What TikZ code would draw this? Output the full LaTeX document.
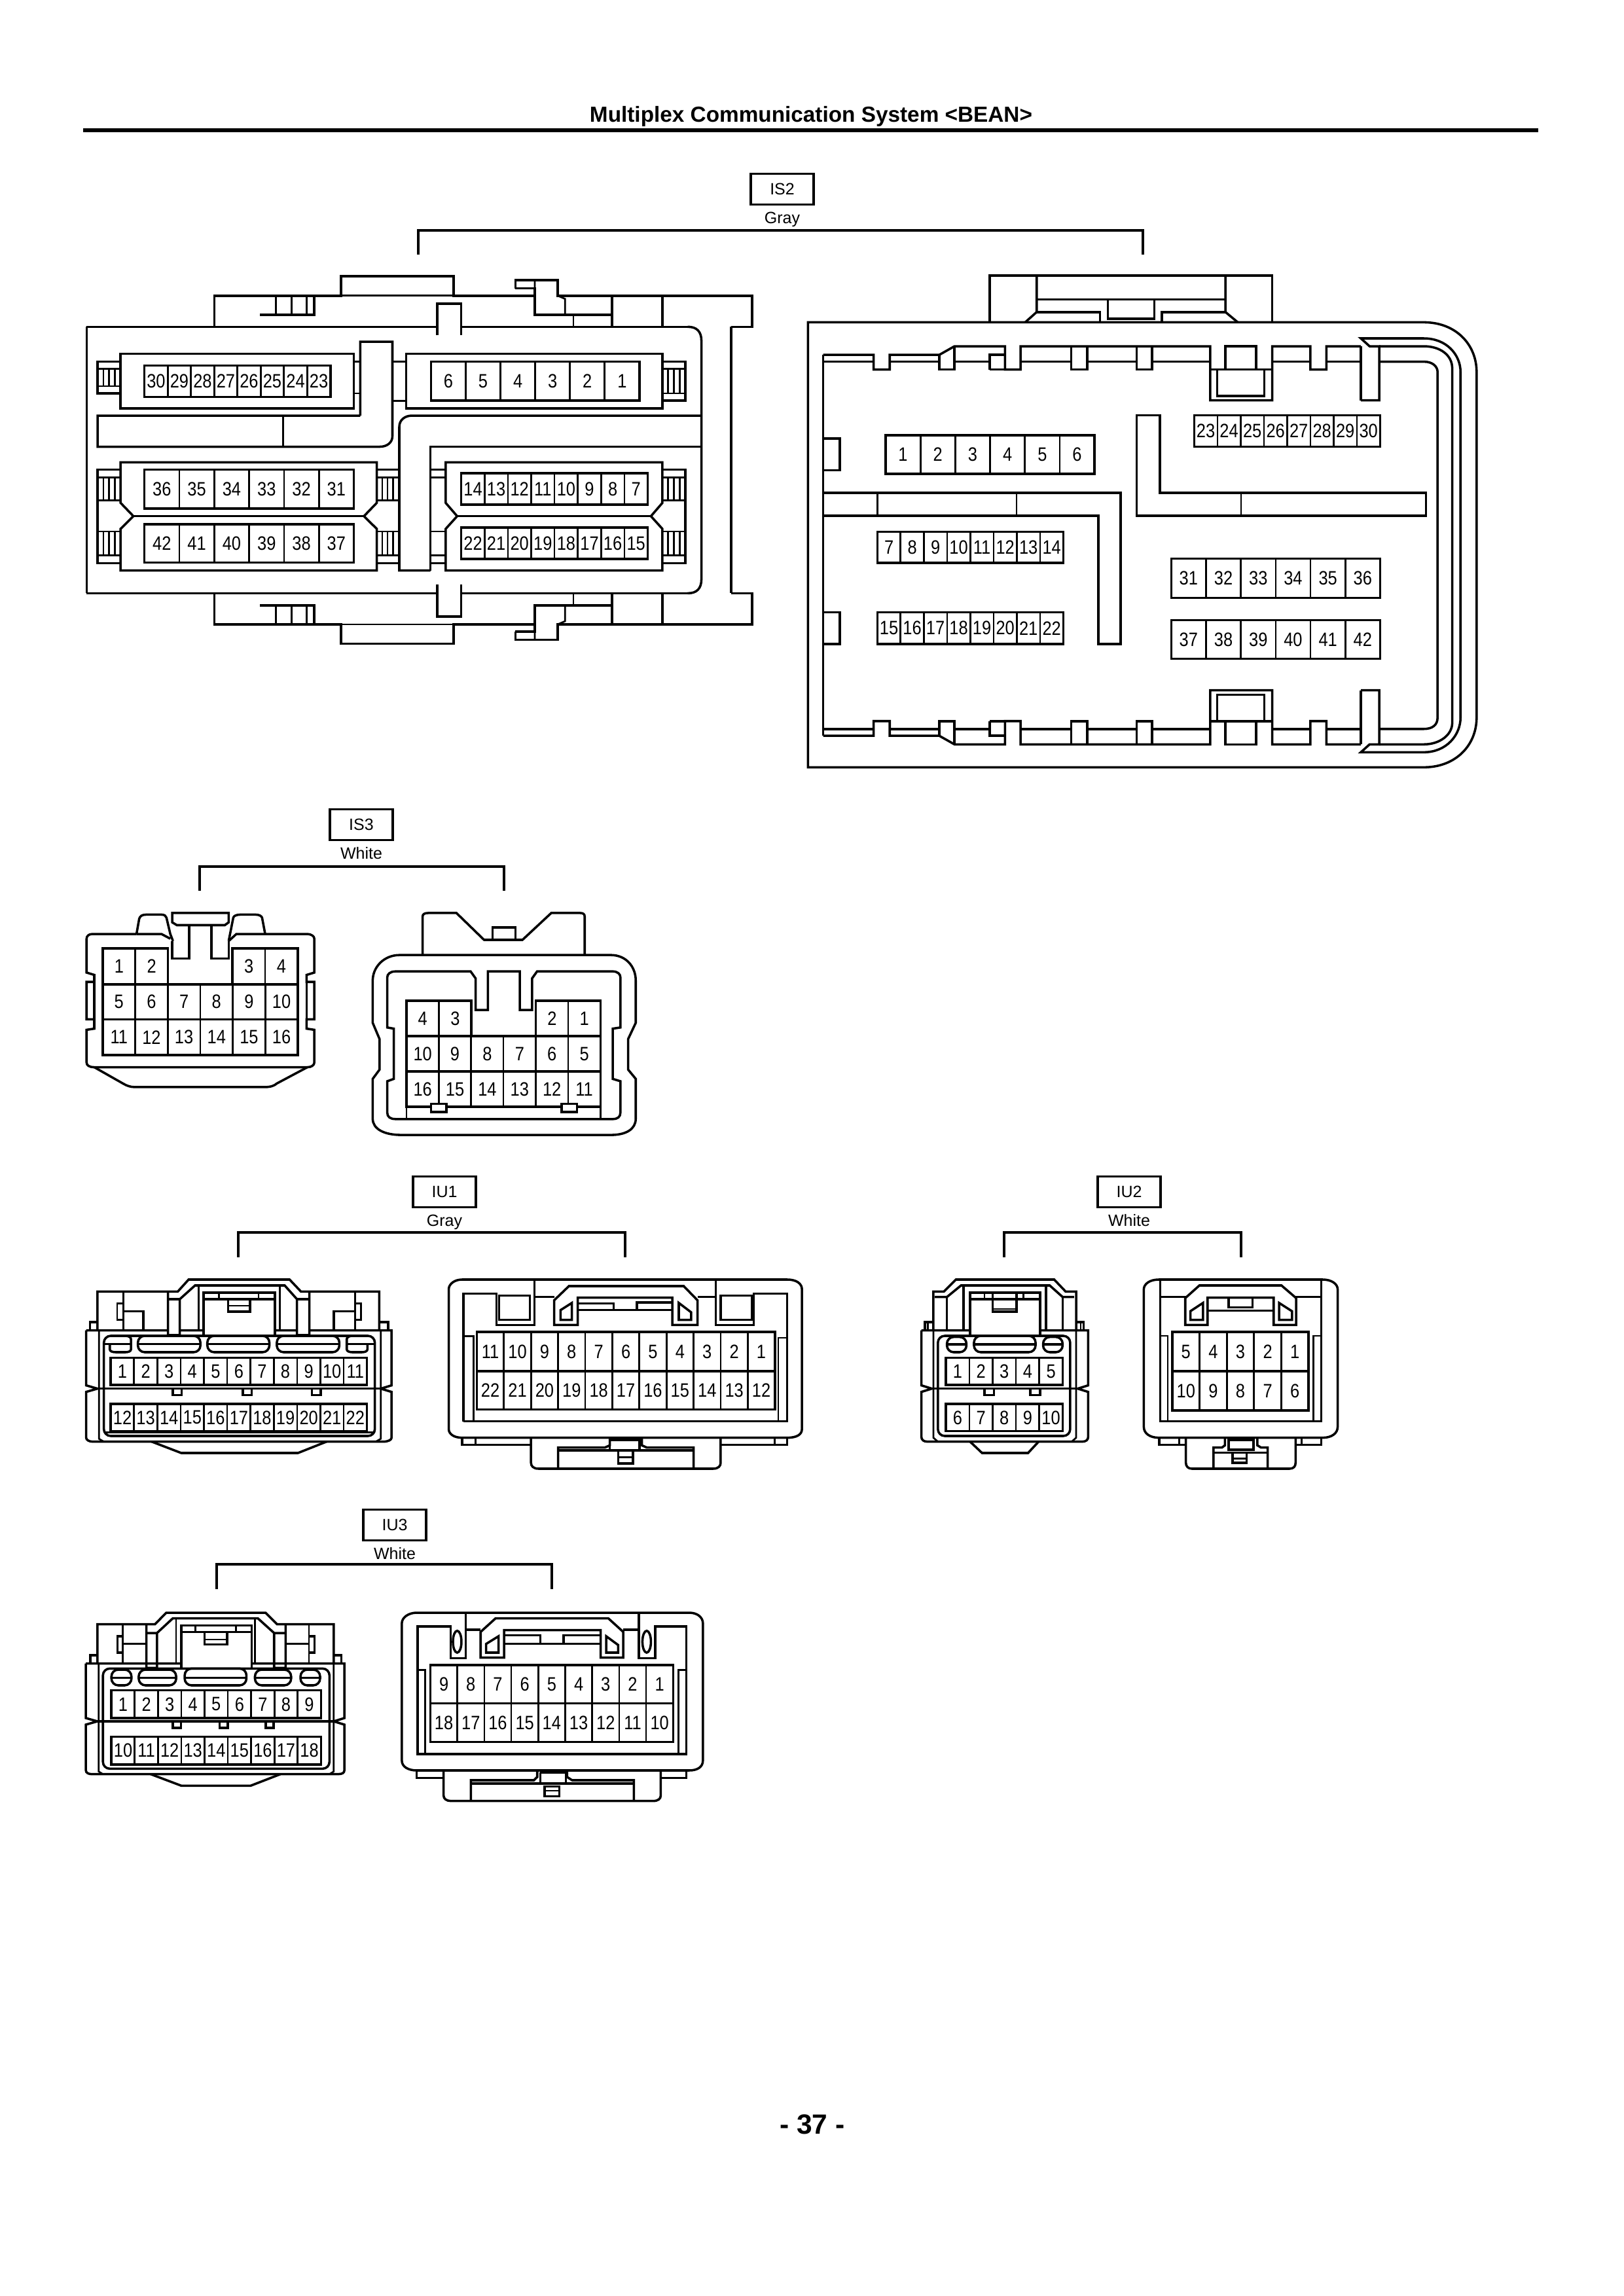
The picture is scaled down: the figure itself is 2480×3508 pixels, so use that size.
\documentclass[tikz,border=0pt]{standalone}
\usepackage{fontspec}
\setmainfont{Liberation Sans}
\newfontfamily\pinfamily[FakeStretch=0.86]{Liberation Sans}
\usetikzlibrary{positioning}

\tikzset{
  shell/.style={draw=black, line width=0.85pt, line join=miter},
  cell/.style={draw=black, line width=0.65pt},
  pintext/.style={inner sep=0pt, font=\pinfamily\fontsize{7.1}{8}\selectfont},
  tagbox/.style={rectangle, draw=black, line width=0.8pt, inner sep=0pt, minimum width=23pt, minimum height=11.4pt, font=\fontsize{6}{7}\selectfont},
  tagnote/.style={inner sep=0pt, font=\fontsize{6}{7}\selectfont},
  bracket/.style={draw=black, line width=0.9pt},
  % crops of the sheet, each with its own grid
  gridIStwoL/.style={shift={(100,240)}, xscale=0.7015, yscale=0.4847},
  gridIStwoR/.style={shift={(1200,380)}, xscale=0.7015, yscale=0.523},
  gridISthree/.style={shift={(100,1220)}, xscale=0.5867, yscale=0.357},
  gridIUone/.style={shift={(100,1940)}, xscale=0.7526, yscale=0.3333},
  gridIUtwo/.style={shift={(1380,1940)}, xscale=0.4592, yscale=0.3333},
  gridIUthree/.style={shift={(100,2450)}, xscale=0.6505, yscale=0.3333}
}

% name, x0, y0, x1, y1, labels
\newcommand{\pinrow}[6]{%
  \foreach \pn [count=\pk] in {#6} {\xdef\pintotal{\pk}}
  \pgfmathsetmacro{\pinw}{(#4-#2)/\pintotal}
  \foreach \pn [count=\pk from 0] in {#6} {
    \pgfmathsetmacro{\pinl}{#2+\pk*\pinw}
    \draw[cell] (\pinl,#3) rectangle ({\pinl+\pinw},#5);
    \node[pintext] (#1-\pn) at ({\pinl+\pinw/2},{(#3+#5)/2}) {\pn};
  }
  \draw[shell] (#2,#3) rectangle (#4,#5);
}
% x0, x1, y top, y bottom
\newcommand{\grill}[4]{%
  \draw[cell] (#1,#3) -- (#2,#3) (#1,#4) -- (#2,#4);
  \foreach \gk in {1,2,3} {
    \draw[cell] ({#1+\gk*(#2-#1)/4},#3) -- ({#1+\gk*(#2-#1)/4},#4);
  }
}
% x0, y0, x1, y1, y middle
\newcommand{\slothole}[5]{%
  \draw[shell, rounded corners=2.5pt] (#1,#2) rectangle (#3,#4);
  \draw[shell] (#1,#5) -- (#3,#5);
}
% left IS2 top part, drawn twice
\newcommand{\shroudIStwo}{%
  \draw[shell] (46,535) -- (324,535) -- (324,437) -- (600,437) -- (600,376) -- (845,376) -- (845,437) -- (1022,437);
  \draw[cell] (600,437) -- (845,437);
  \draw[shell] (810,535) -- (810,462) -- (862,462) -- (862,562) (810,562) -- (810,535);
  \draw[shell] (324,535) -- (810,535) (862,535) -- (1355,535);
  \draw[shell] (980,414) -- (980,388) -- (1072,388) -- (1072,437) -- (1495,437) -- (1495,535) -- (1450,535);
  \draw[shell] (980,414) -- (1022,414) -- (1022,497) -- (1188,497);
  \draw[cell] (1022,388) -- (1022,414) (1072,437) -- (1088,447) -- (1088,497);
  \draw[shell] (1190,437) -- (1190,535) (1300,437) -- (1300,535);
  \draw[cell] (1106,497) -- (1106,535);
  \draw[shell] (424,497) -- (542,497) -- (542,437);
  \draw[cell] (458,437) -- (458,497) (492,437) -- (492,497) (525,437) -- (525,497);
}
% right IS2 top rail, drawn twice
\newcommand{\railIStwo}{%
  \draw[shell] (82,310) -- (192,310) -- (192,353) -- (227,353) -- (227,310) -- (335,310) -- (368,285) -- (478,285) -- (478,353) -- (512,353) -- (512,285) -- (925,285) -- (925,443) -- (1060,443) -- (1060,285) -- (1143,285) -- (1143,353) -- (1178,353) -- (1178,285) -- (1253,285);
  \draw[shell] (622,285) -- (622,353) -- (657,353) -- (657,285) (765,285) -- (765,353) -- (798,353) -- (798,285);
  \draw[shell] (82,330) -- (192,330) (227,330) -- (335,330) (368,330) -- (445,330) (512,330) -- (622,330) (657,330) -- (765,330) (798,330) -- (925,330) (1060,330) -- (1143,330) (1178,330) -- (1253,330);
  \draw[shell] (335,310) -- (335,353) -- (368,353) -- (368,285) (445,353) -- (445,310) -- (478,310) (445,353) -- (478,353);
  \draw[shell] (925,353) -- (1060,353) (958,353) -- (958,285) -- (1025,285) -- (1025,353);
  \draw[shell] (940,353) -- (940,430) -- (1043,430) -- (1043,353);
  \draw[shell] (1253,443) -- (1293,443) -- (1293,285) -- (1272,285) -- (1253,262) -- (1390,262);
  \draw[shell] (1253,285) -- (1253,443);
}

\begin{document}
\begin{tikzpicture}[x=0.24pt, y=-0.24pt]
  \useasboundingbox (0,0) rectangle (2480,3508);

  % Page head and foot
  \node[inner sep=0pt, font=\fontsize{8}{10}\selectfont\bfseries] (title) at (1239,178) {Multiplex Communication System <BEAN>};
  \coordinate (ruleL) at (127,199);
  \coordinate (ruleR) at (2350,199);
  \draw[line width=1.5pt] (ruleL) -- (ruleR);
  \node[inner sep=0pt, font=\fontsize{10.2}{12}\selectfont\bfseries] (pageno) at (1241,3246) {- 37 -};

  % Tags
  \node[tagbox] (tagIStwo) at (1195,289) {IS2};
  \node[tagnote, below=2pt of tagIStwo] (noteIStwo) {Gray};
  \node[tagbox] (tagISthree) at (552,1260) {IS3};
  \node[tagnote, below=2pt of tagISthree] (noteISthree) {White};
  \node[tagbox] (tagIUone) at (679,1821) {IU1};
  \node[tagnote, below=2pt of tagIUone] (noteIUone) {Gray};
  \node[tagbox] (tagIUtwo) at (1725,1821) {IU2};
  \node[tagnote, below=2pt of tagIUtwo] (noteIUtwo) {White};
  \node[tagbox] (tagIUthree) at (603,2330) {IU3};
  \node[tagnote, below=2pt of tagIUthree] (noteIUthree) {White};

  % Brackets
  \coordinate (brISa) at (639,389);
  \coordinate (brISb) at (1746,389);
  \draw[bracket] (brISa) |- ++(553,-37) -| (brISb);
  \coordinate (brISc) at (305,1361);
  \coordinate (brISd) at (770,1361);
  \draw[bracket] (brISc) |- ++(232,-37) -| (brISd);
  \coordinate (brIUa) at (364,1921);
  \coordinate (brIUb) at (955,1921);
  \draw[bracket] (brIUa) |- ++(295,-38) -| (brIUb);
  \coordinate (brIUc) at (1534,1921);
  \coordinate (brIUd) at (1896,1921);
  \draw[bracket] (brIUc) |- ++(181,-38) -| (brIUd);
  \coordinate (brIUe) at (331,2428);
  \coordinate (brIUf) at (843,2428);
  \draw[bracket] (brIUe) |- ++(256,-38) -| (brIUf);

  % IS2 left
  \begin{scope}[gridIStwoL]
    \shroudIStwo
    \begin{scope}[shift={(0,1910)}, yscale=-1]
      \shroudIStwo
    \end{scope}
    \draw[shell] (46,535) -- (46,1375);
    \draw[shell] (1355,535) .. controls (1375,535) and (1385,550) .. (1385,580) -- (1385,1330) .. controls (1385,1360) and (1375,1375) .. (1355,1375);
    \draw[shell] (1450,535) -- (1450,1375);
    % 30..23 and 6..1
    \draw[shell] (120,620) rectangle (628,792);
    \pinrow{isTwoA}{172}{657}{577}{756}{30,29,28,27,26,25,24,23}
    \draw[shell] (120,645) -- (70,645) -- (70,745) -- (120,745);
    \grill{70}{120}{668}{722}
    \draw[cell] (628,645) -- (642,645) (628,745) -- (642,745);
    \draw[shell] (642,815) -- (642,582) -- (712,582) -- (712,880) .. controls (712,900) and (700,913) .. (685,913) -- (70,913) -- (70,815) -- (642,815);
    \draw[cell] (474,815) -- (474,913);
    \draw[cell] (712,645) -- (742,645) (712,768) -- (742,768);
    \draw[shell] (742,620) rectangle (1300,792);
    \pinrow{isTwoB}{796}{645}{1250}{768}{6,5,4,3,2,1}
    \draw[shell] (1300,645) -- (1350,645) -- (1350,768) -- (1300,768);
    \grill{1300}{1350}{668}{745}
    % centre wall
    \draw[shell] (795,1303) -- (727,1303) -- (727,850) .. controls (727,830) and (738,815) .. (755,815) -- (1385,815);
    \draw[shell] (795,1303) -- (795,913) -- (1385,913);
    % 36..31 and 42..37
    \draw[shell] (120,962) -- (678,962) -- (678,1090) -- (650,1132) -- (678,1172) -- (678,1303) -- (120,1303) -- (120,1172) -- (148,1132) -- (120,1090) -- cycle;
    \draw[shell] (148,1132) -- (650,1132);
    \pinrow{isTwoC}{172}{985}{628}{1108}{36,35,34,33,32,31}
    \pinrow{isTwoD}{172}{1157}{628}{1278}{42,41,40,39,38,37}
    \draw[shell] (120,985) -- (70,985) -- (70,1280) -- (120,1280);
    \draw[cell] (70,1010) -- (120,1010) (70,1255) -- (120,1255);
    \grill{70}{120}{1010}{1082}
    \grill{70}{120}{1180}{1255}
    \draw[cell] (678,985) -- (725,985) (678,1280) -- (725,1280);
    \grill{678}{725}{1010}{1082}
    \grill{678}{725}{1180}{1255}
    % 14..7 and 22..15
    \draw[shell] (828,962) -- (1300,962) -- (1300,1090) -- (1275,1132) -- (1300,1172) -- (1300,1303) -- (828,1303) -- (828,1172) -- (853,1132) -- (828,1090) -- cycle;
    \draw[shell] (853,1132) -- (1275,1132);
    \pinrow{isTwoE}{862}{997}{1268}{1096}{14,13,12,11,10,9,8,7}
    \pinrow{isTwoF}{862}{1168}{1268}{1267}{22,21,20,19,18,17,16,15}
    \draw[cell] (795,985) -- (828,985) (795,1010) -- (828,1010) (795,1180) -- (828,1180) (795,1255) -- (828,1255) (795,1280) -- (828,1280);
    \draw[shell] (1300,985) -- (1350,985) -- (1350,1280) -- (1300,1280);
    \grill{1300}{1350}{1010}{1082}
    \grill{1300}{1350}{1180}{1255}
  \end{scope}

  % IS2 right
  \begin{scope}[gridIStwoR]
    \draw[shell] (49,215) -- (1390,215) .. controls (1460,215) and (1505,280) .. (1505,360) -- (1505,1370) .. controls (1505,1450) and (1460,1515) .. (1390,1515) -- (49,1515) -- cycle;
    \draw[shell] (445,215) -- (445,78) -- (1060,78) -- (1060,215);
    \draw[shell] (522,215) -- (547,185) -- (547,78) (985,215) -- (958,185) -- (958,78);
    \draw[shell] (547,148) -- (958,148);
    \draw[shell] (547,185) -- (685,185) -- (685,215) (958,185) -- (820,185) -- (820,215);
    \draw[shell] (702,148) -- (702,205) -- (803,205) -- (803,148);
    \railIStwo
    \begin{scope}[shift={(0,1733)}, yscale=-1]
      \railIStwo
    \end{scope}
    \draw[shell] (82,310) -- (82,1423);
    \draw[shell] (1390,262) .. controls (1440,262) and (1470,310) .. (1470,360) -- (1470,1370) .. controls (1470,1420) and (1440,1471) .. (1390,1471);
    \draw[shell] (1293,285) -- (1390,285) .. controls (1425,285) and (1452,310) .. (1452,350) -- (1452,1385) .. controls (1452,1420) and (1425,1448) .. (1390,1448) -- (1293,1448);
    \draw[shell] (1293,330) -- (1390,330) .. controls (1410,330) and (1420,345) .. (1420,360) -- (1420,1370) .. controls (1420,1390) and (1410,1403) .. (1390,1403) -- (1293,1403);
    \draw[shell] (82,555) -- (118,555) -- (118,647) -- (82,647);
    \draw[shell] (82,1062) -- (118,1062) -- (118,1155) -- (82,1155);
    \draw[shell] (82,713) -- (730,713) -- (730,1155) -- (681,1155) -- (681,780) -- (82,780);
    \draw[cell] (200,713) -- (200,780) (503,713) -- (503,780);
    \draw[shell] (765,487) -- (815,487) -- (815,713) -- (1395,713) -- (1395,780) -- (765,780) -- cycle;
    \draw[cell] (992,713) -- (992,780);
    \pinrow{isTwoG}{218}{545}{673}{658}{1,2,3,4,5,6}
    \pinrow{isTwoH}{890}{487}{1295}{578}{23,24,25,26,27,28,29,30}
    \pinrow{isTwoI}{200}{827}{605}{918}{7,8,9,10,11,12,13,14}
    \pinrow{isTwoJ}{200}{1062}{605}{1155}{15,16,17,18,19,20,21,22}
    \pinrow{isTwoK}{840}{905}{1295}{1020}{31,32,33,34,35,36}
    \pinrow{isTwoL}{840}{1085}{1295}{1198}{37,38,39,40,41,42}
  \end{scope}

  % IS3
  \begin{scope}[gridISthree]
    % left part
    \draw[shell] (185,580) -- (70,580) .. controls (60,580) and (55,590) .. (55,600) -- (55,745) -- (75,755) -- (75,785) -- (55,785) -- (55,945) -- (75,945) -- (75,985) -- (55,990) -- (55,1130) .. controls (55,1142) and (62,1150) .. (75,1150) -- (630,1150) .. controls (640,1150) and (648,1142) .. (648,1130) -- (648,990) -- (628,985) -- (628,945) -- (648,945) -- (648,785) -- (628,785) -- (628,755) -- (648,745) -- (648,600) .. controls (648,590) and (640,580) .. (630,580) -- (445,580) -- (425,610);
    \draw[shell] (75,785) -- (75,945) (628,785) -- (628,945);
    \draw[shell] (75,1150) -- (150,1220) .. controls (160,1230) and (170,1235) .. (180,1235) -- (520,1235) .. controls (535,1235) and (545,1228) .. (550,1220) -- (630,1150);
    \draw[shell] (185,580) -- (192,515) .. controls (194,503) and (200,497) .. (210,497) -- (250,497) .. controls (258,497) and (262,503) .. (263,510) -- (273,580) -- (280,610) (185,580) -- (250,580) -- (273,600);
    \draw[shell] (520,580) -- (512,510) .. controls (510,503) and (505,497) .. (495,497) -- (455,497) .. controls (445,497) and (438,503) .. (437,510) -- (425,610);
    \draw[shell] (278,490) -- (425,490) -- (425,530) -- (415,542) -- (290,542) -- (278,530) -- cycle;
    \draw[shell] (322,542) -- (322,685) -- (278,685) -- (278,610) (380,542) -- (380,685) -- (425,685) -- (425,610);
    \pinrow{isThreeA}{97}{642}{267}{795}{1,2}
    \pinrow{isThreeB}{435}{642}{605}{795}{3,4}
    \pinrow{isThreeC}{97}{795}{605}{945}{5,6,7,8,9,10}
    \pinrow{isThreeD}{97}{945}{605}{1098}{11,12,13,14,15,16}
    % right part
    \draw[shell] (930,670) -- (930,505) .. controls (930,495) and (935,490) .. (945,490) -- (1018,490) -- (1090,605) -- (1190,605) -- (1265,490) -- (1340,490) .. controls (1348,490) and (1352,495) .. (1352,505) -- (1352,670);
    \draw[shell] (1112,605) -- (1112,552) -- (1172,552) -- (1172,605);
    \draw[shell] (870,670) -- (1420,670) .. controls (1460,670) and (1485,720) .. (1485,780) -- (1485,960) -- (1465,1030) -- (1465,1160) -- (1485,1200) -- (1485,1370) .. controls (1485,1415) and (1460,1440) .. (1420,1440) -- (875,1440) .. controls (830,1440) and (800,1415) .. (800,1370) -- (800,1200) -- (818,1160) -- (818,1030) -- (800,960) -- (800,780) .. controls (800,720) and (830,670) .. (870,670) -- cycle;
    \draw[shell] (860,740) -- (1055,740) -- (1068,770) -- (1068,905) -- (1100,905) -- (1100,740) -- (1183,740) -- (1183,905) -- (1215,905) -- (1215,770) -- (1228,740) -- (1425,740) .. controls (1438,740) and (1445,752) .. (1445,765) -- (1445,980) -- (1425,985) -- (1425,1200) -- (1445,1210) -- (1445,1345) .. controls (1445,1362) and (1438,1372) .. (1425,1372) -- (860,1372) .. controls (845,1372) and (838,1362) .. (838,1345) -- (838,1210) -- (855,1200) -- (855,985) -- (838,980) -- (838,765) .. controls (838,752) and (845,740) .. (860,740) -- cycle;
    \pinrow{isThreeE}{888}{865}{1057}{1017}{4,3}
    \pinrow{isThreeF}{1225}{865}{1393}{1017}{2,1}
    \pinrow{isThreeG}{888}{1017}{1393}{1168}{10,9,8,7,6,5}
    \pinrow{isThreeH}{888}{1168}{1393}{1320}{16,15,14,13,12,11}
    \draw[cell] (888,1320) -- (888,1372) (1393,1320) -- (1393,1372);
    \draw[shell, fill=white] (952,1307) rectangle (992,1342);
    \draw[shell, fill=white] (1292,1307) rectangle (1332,1342);
  \end{scope}

  % IU1
  \begin{scope}[gridIUone]
    % left part
    \draw[shell] (65,278) -- (65,100) -- (228,100) -- (250,45) -- (455,45) -- (478,100) -- (637,100) -- (637,278);
    \draw[shell] (208,100) -- (208,300) -- (232,300) -- (232,135) -- (208,135) (232,135) -- (263,72) -- (445,72) -- (470,135) -- (495,135) (470,135) -- (470,300) -- (495,300) -- (495,100);
    \draw[cell] (270,72) -- (270,278) (435,72) -- (435,278);
    \draw[shell] (280,300) -- (280,105) -- (425,105) -- (425,300);
    \draw[shell] (280,135) -- (425,135);
    \draw[cell] (312,110) -- (312,135) (392,110) -- (392,135);
    \draw[shell] (330,135) -- (330,192) -- (375,192) -- (375,135);
    \draw[cell] (330,165) -- (375,165);
    \draw[cell] (118,100) -- (118,278) (588,100) -- (588,278);
    \draw[shell] (118,190) -- (158,190) -- (158,278) (588,190) -- (545,190) -- (545,278);
    \draw[cell] (118,155) -- (105,155) -- (105,230) -- (118,230) (588,155) -- (600,155) -- (600,230) -- (588,230);
    \draw[shell] (50,278) -- (50,240) -- (65,240) (637,240) -- (655,240) -- (655,278);
    \draw[shell] (42,278) -- (42,530) -- (65,545) -- (42,560) -- (42,770) .. controls (42,780) and (48,788) .. (55,788) -- (645,788) .. controls (655,788) and (662,780) .. (662,770) -- (662,560) -- (640,545) -- (662,530) -- (662,278) -- (495,278) (470,278) -- (425,278) (280,278) -- (232,278) (208,278) -- (42,278);
    \draw[shell] (65,545) -- (640,545);
    \draw[cell] (68,278) -- (68,775) -- (78,788) (640,278) -- (640,775) -- (630,788);
    \draw[shell, rounded corners=2.5pt] (78,303) rectangle (628,762);
    \draw[shell] (78,745) -- (628,745);
    \draw[shell] (78,340) -- (133,340) (571,340) -- (628,340);
    \draw[shell] (90,340) -- (90,365) .. controls (90,373) and (95,378) .. (102,378) -- (122,378) .. controls (128,378) and (133,373) .. (133,365) -- (133,318) .. controls (133,310) and (128,303) .. (122,303);
    \draw[shell] (613,340) -- (613,365) .. controls (613,373) and (608,378) .. (602,378) -- (582,378) .. controls (576,378) and (571,373) .. (571,365) -- (571,318) .. controls (571,310) and (576,303) .. (582,303);
    \slothole{147}{303}{274}{378}{340}
    \slothole{288}{303}{414}{378}{340}
    \slothole{429}{303}{556}{378}{340}
    \pinrow{iuOneA}{92}{403}{612}{528}{1,2,3,4,5,6,7,8,9,10,11}
    \pinrow{iuOneB}{92}{615}{612}{740}{12,13,14,15,16,17,18,19,20,21,22}
    \foreach \tabx in {218,360,500} {
      \draw[shell] (\tabx,548) -- (\tabx,575) -- ({\tabx+18},575) -- ({\tabx+18},548);
    }
    \draw[shell] (175,788) -- (235,840) -- (472,840) -- (530,788);
    % right part
    \draw[shell] (805,45) -- (1465,45) .. controls (1485,45) and (1495,65) .. (1495,90) -- (1495,730) .. controls (1495,755) and (1485,770) .. (1465,770) -- (805,770) .. controls (790,770) and (778,755) .. (778,730) -- (778,90) .. controls (778,65) and (790,45) .. (805,45) -- cycle;
    \draw[shell] (808,695) -- (808,110) -- (875,110) -- (875,253) -- (952,253) -- (952,45);
    \draw[shell] (1320,45) -- (1320,253) -- (1397,253) -- (1397,110) -- (1465,110) -- (1465,695) -- (808,695);
    \draw[shell] (952,125) -- (992,125) (1283,125) -- (1320,125);
    \draw[shell] (992,253) -- (992,140) -- (1022,75) -- (1255,75) -- (1283,140) -- (1283,253) -- (1232,253) -- (1232,128) -- (1040,128) -- (1040,253) -- cycle;
    \draw[shell] (880,118) rectangle (943,230);
    \draw[shell] (1330,118) rectangle (1393,230);
    \draw[shell] (1005,230) -- (1005,185) -- (1028,152) -- (1028,230) -- cycle;
    \draw[shell] (1245,230) -- (1245,152) -- (1270,195) -- (1270,230) -- cycle;
    \draw[shell] (1040,155) -- (1113,155) -- (1113,185) (1232,150) -- (1160,150) -- (1160,185) (1040,185) -- (1232,185);
    \draw[cell] (808,305) -- (828,305) -- (828,695) (1465,312) -- (1447,312) -- (1447,695);
    \pinrow{iuOneC}{835}{285}{1440}{465}{11,10,9,8,7,6,5,4,3,2,1}
    \pinrow{iuOneD}{835}{465}{1440}{640}{22,21,20,19,18,17,16,15,14,13,12}
    \draw[shell] (805,770) -- (805,803) -- (945,803) (1465,770) -- (1465,803) -- (1330,803);
    \draw[cell] (832,770) -- (832,803) (1440,770) -- (1440,803);
    \draw[shell] (945,770) -- (945,885) .. controls (945,900) and (950,912) .. (960,912) -- (1315,912) .. controls (1325,912) and (1330,900) .. (1330,885) -- (1330,770);
    \draw[shell] (1000,912) -- (1000,815) -- (1095,815) -- (1105,805) -- (1105,770) (1275,912) -- (1275,815) -- (1180,815) -- (1170,805) -- (1170,770);
    \draw[shell] (1000,828) -- (1275,828) (1105,780) -- (1165,780) -- (1165,828) (1105,780) -- (1105,828);
    \draw[shell] (1122,828) -- (1122,888) -- (1152,888) -- (1152,828);
    \draw[cell] (1122,860) -- (1152,860);
  \end{scope}

  % IU2
  \begin{scope}[gridIUtwo]
    % left part
    \draw[shell] (100,278) -- (100,100) -- (135,100) -- (175,45) -- (502,45) -- (540,100) -- (575,100) -- (575,278);
    \draw[shell] (105,125) -- (145,125) -- (192,72) -- (487,72) -- (530,125) -- (568,125);
    \draw[shell] (145,125) -- (145,278) (530,125) -- (530,278) (200,72) -- (200,278) (475,72) -- (475,278);
    \draw[shell] (222,303) -- (222,105) -- (455,105) -- (455,303);
    \draw[shell] (222,135) -- (455,135);
    \draw[cell] (270,110) -- (270,135) (400,110) -- (400,135);
    \draw[shell] (297,110) -- (297,192) -- (377,192) -- (377,110);
    \draw[cell] (297,180) -- (377,180);
    \draw[shell] (72,278) -- (72,240) -- (100,240) (575,240) -- (600,240) -- (600,278);
    \draw[cell] (82,240) -- (82,278) (590,240) -- (590,278);
    \draw[shell] (60,278) -- (60,530) -- (95,545) -- (60,560) -- (60,765) .. controls (60,780) and (68,788) .. (80,788) -- (595,788) .. controls (608,788) and (615,780) .. (615,765) -- (615,560) -- (580,545) -- (615,530) -- (615,278) -- (455,278) (222,278) -- (60,278);
    \draw[shell] (95,545) -- (580,545);
    \draw[cell] (100,278) -- (100,770) -- (115,788) (575,278) -- (575,770) -- (560,788);
    \draw[shell, rounded corners=2.5pt] (115,303) rectangle (555,762);
    \slothole{145}{308}{210}{378}{342}
    \slothole{235}{303}{440}{378}{342}
    \slothole{465}{308}{530}{378}{342}
    \pinrow{iuTwoA}{142}{403}{530}{528}{1,2,3,4,5}
    \pinrow{iuTwoB}{142}{615}{530}{740}{6,7,8,9,10}
    \foreach \tabx in {270,423} {
      \draw[shell] (\tabx,548) -- (\tabx,575) -- ({\tabx+32},575) -- ({\tabx+32},548);
    }
    \draw[shell] (222,788) -- (262,840) -- (415,840) -- (450,788);
    % right part
    \draw[shell] (850,45) -- (1395,45) .. controls (1425,45) and (1445,65) .. (1445,90) -- (1445,720) .. controls (1445,750) and (1425,770) .. (1395,770) -- (850,770) .. controls (820,770) and (800,750) .. (800,720) -- (800,90) .. controls (800,65) and (820,45) .. (850,45) -- cycle;
    \draw[shell] (855,45) -- (855,695) -- (1390,695) -- (1390,45);
    \draw[shell] (855,125) -- (940,125) (1305,125) -- (1390,125);
    \draw[shell] (938,253) -- (938,130) -- (985,72) -- (1258,72) -- (1307,130) -- (1307,253) -- (1232,253) -- (1232,128) -- (1012,128) -- (1012,253) -- cycle;
    \draw[shell] (1082,128) -- (1082,172) -- (1162,172) -- (1162,128) (1012,188) -- (1232,188);
    \draw[shell] (955,230) -- (955,190) -- (997,152) -- (997,230) -- cycle;
    \draw[shell] (1250,230) -- (1250,152) -- (1293,190) -- (1293,230) -- cycle;
    \draw[cell] (855,303) -- (880,303) -- (880,695) (1390,303) -- (1365,303) -- (1365,695);
    \pinrow{iuTwoC}{895}{285}{1348}{465}{5,4,3,2,1}
    \pinrow{iuTwoD}{895}{465}{1348}{645}{10,9,8,7,6}
    \draw[shell] (852,770) -- (852,803) -- (940,803) (1390,770) -- (1390,803) -- (1305,803);
    \draw[cell] (918,770) -- (918,803) (1325,770) -- (1325,803);
    \draw[shell] (940,770) -- (940,885) .. controls (940,902) and (948,912) .. (960,912) -- (1285,912) .. controls (1298,912) and (1305,902) .. (1305,885) -- (1305,770);
    \draw[shell] (1032,912) -- (1032,815) -- (1060,815) -- (1070,805) -- (1070,770) (1212,912) -- (1212,815) -- (1190,815) -- (1178,805) -- (1178,770);
    \draw[shell] (1032,838) -- (1212,838);
    \draw[shell] (1082,780) rectangle (1165,825);
    \draw[shell] (1095,838) -- (1095,885) -- (1142,885) -- (1142,838);
    \draw[cell] (1095,865) -- (1142,865);
  \end{scope}

  % IU3
  \begin{scope}[gridIUthree]
    % left part
    \draw[shell] (75,275) -- (75,95) -- (210,95) -- (237,42) -- (470,42) -- (497,95) -- (630,95) -- (630,275);
    \draw[shell] (190,95) -- (190,295) -- (215,295) -- (215,135) -- (190,135) (215,135) -- (252,68) -- (452,68) -- (490,135) -- (517,135) (490,135) -- (490,295) -- (517,295) -- (517,95);
    \draw[cell] (260,68) -- (260,275) (445,68) -- (445,275);
    \draw[shell] (272,298) -- (272,100) -- (437,100) -- (437,298);
    \draw[shell] (272,130) -- (437,130);
    \draw[cell] (305,105) -- (305,130) (400,105) -- (400,130);
    \draw[shell] (327,130) -- (327,187) -- (380,187) -- (380,130);
    \draw[cell] (327,165) -- (380,165);
    \draw[cell] (135,95) -- (135,275) (572,95) -- (572,275);
    \draw[shell] (135,150) -- (122,150) -- (122,225) -- (135,225) (572,150) -- (585,150) -- (585,225) -- (572,225);
    \draw[shell] (135,185) -- (190,185) (517,185) -- (572,185);
    \draw[shell] (58,275) -- (58,237) -- (75,237) (630,237) -- (648,237) -- (648,275);
    \draw[shell] (48,275) -- (48,525) -- (75,540) -- (48,555) -- (48,765) .. controls (48,776) and (54,782) .. (62,782) -- (640,782) .. controls (650,782) and (655,776) .. (655,765) -- (655,555) -- (630,540) -- (655,525) -- (655,275) -- (437,275) (272,275) -- (48,275);
    \draw[shell] (75,540) -- (630,540);
    \draw[cell] (78,275) -- (78,770) -- (88,782) (630,275) -- (630,770) -- (620,782);
    \draw[shell, rounded corners=2.5pt] (88,298) rectangle (620,757);
    \slothole{108}{303}{155}{375}{340}
    \slothole{172}{303}{260}{375}{340}
    \slothole{280}{298}{425}{375}{340}
    \slothole{445}{303}{530}{375}{340}
    \slothole{552}{303}{598}{375}{340}
    \pinrow{iuThreeA}{108}{398}{600}{525}{1,2,3,4,5,6,7,8,9}
    \pinrow{iuThreeB}{108}{610}{600}{738}{10,11,12,13,14,15,16,17,18}
    \foreach \tabx in {252,362,470} {
      \draw[shell] (\tabx,543) -- (\tabx,570) -- ({\tabx+19},570) -- ({\tabx+19},543);
    }
    \draw[shell] (200,782) -- (272,835) -- (435,835) -- (505,782);
    % right part
    \draw[shell] (825,42) -- (1465,42) .. controls (1485,42) and (1497,65) .. (1497,90) -- (1497,720) .. controls (1497,748) and (1485,765) .. (1465,765) -- (825,765) .. controls (805,765) and (790,748) .. (790,720) -- (790,90) .. controls (790,65) and (805,42) .. (825,42) -- cycle;
    \draw[shell] (940,42) -- (940,250) -- (905,250) -- (905,105) -- (827,105) -- (827,690) -- (1458,690) -- (1458,105) -- (1385,105) -- (1385,250) -- (1347,250) -- (1347,42);
    \draw[shell] (940,120) -- (975,120) (1310,120) -- (1347,120);
    \draw[shell] (975,248) -- (975,130) -- (1010,68) -- (1275,68) -- (1310,130) -- (1310,248) -- (1257,248) -- (1257,122) -- (1030,122) -- (1030,248) -- cycle;
    \draw[shell] (988,225) -- (988,185) -- (1017,150) -- (1017,225) -- cycle;
    \draw[shell] (1270,225) -- (1270,150) -- (1298,190) -- (1298,225) -- cycle;
    \draw[shell] (920,175) ellipse [x radius=10, y radius=50];
    \draw[shell] (1365,175) ellipse [x radius=10, y radius=50];
    \draw[shell] (1030,145) -- (1115,145) -- (1115,185) (1257,145) -- (1170,145) -- (1170,185) (1030,185) -- (1257,185);
    \draw[cell] (827,305) -- (845,305) -- (845,690) (1458,305) -- (1440,305) -- (1440,690);
    \pinrow{iuThreeC}{857}{282}{1427}{458}{9,8,7,6,5,4,3,2,1}
    \pinrow{iuThreeD}{857}{458}{1427}{635}{18,17,16,15,14,13,12,11,10}
    \draw[shell] (825,765) -- (825,800) -- (888,800) (1458,765) -- (1458,800) -- (1398,800);
    \draw[shell] (888,765) -- (888,880) .. controls (888,895) and (895,905) .. (905,905) -- (1380,905) .. controls (1392,905) and (1398,895) .. (1398,880) -- (1398,765);
    \draw[shell] (952,905) -- (952,810) -- (1100,810) -- (1108,795) -- (1108,770) (1335,905) -- (1335,810) -- (1190,810) -- (1178,795) -- (1178,770);
    \draw[shell] (952,825) -- (1335,825);
    \draw[shell] (1115,775) -- (1175,775) -- (1175,825) (1115,775) -- (1115,825);
    \draw[shell] (1125,838) rectangle (1160,883);
    \draw[cell] (1125,858) -- (1160,858);
  \end{scope}
\end{tikzpicture}
\end{document}
